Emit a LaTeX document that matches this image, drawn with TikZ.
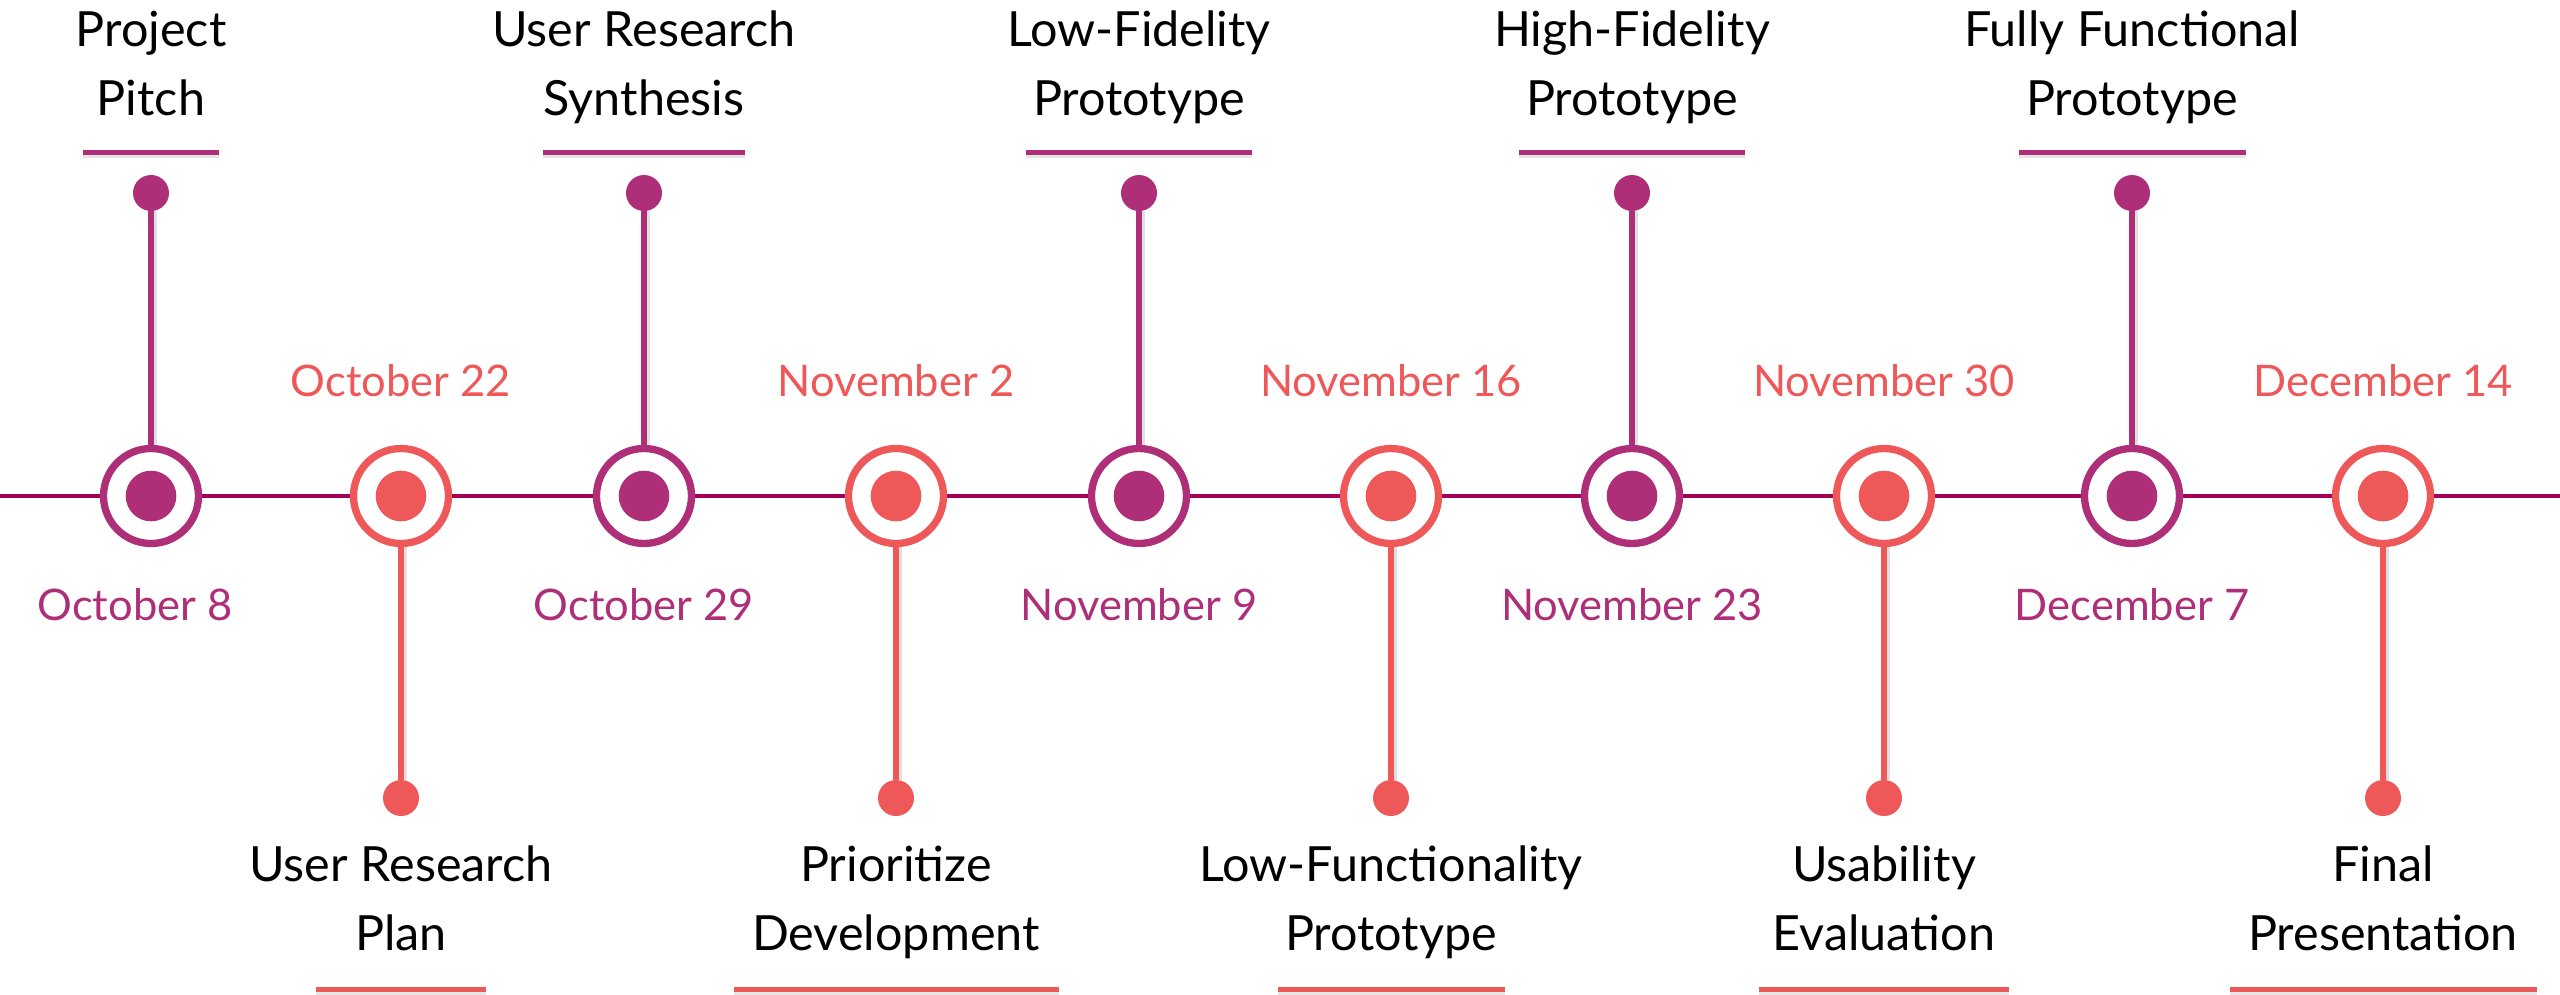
\documentclass[tikz,border=0pt]{standalone}
\usepackage{fontspec}
\setmainfont{Lato}
\usetikzlibrary{shadows}
\definecolor{plum}{HTML}{AE2E78}
\definecolor{coral}{HTML}{EE5858}
\definecolor{axisplum}{HTML}{A4005A}

\begin{document}
\begin{tikzpicture}[x=1pt,y=-1pt,
		ring/.style={circle,draw=#1,line width=7.3pt,fill=white,minimum size=95pt,inner sep=0pt,
			path picture={\fill[#1](path picture bounding box.center)circle(25.3pt);}},
		enddot/.style={circle,fill=#1,minimum size=36pt,inner sep=0pt},
		stem/.style={#1,line width=5.5pt,preaction={draw=black,opacity=0.12,line width=7pt,transform canvas={xshift=2pt}}},
		bar/.style={rectangle,fill=#1,minimum height=5pt,inner sep=0pt,drop shadow={shadow xshift=0pt,shadow yshift=-3pt,opacity=0.2}},
		event/.style={font=\fontsize{48.5}{68.5}\selectfont,align=center,anchor=base,inner sep=0pt},
		date/.style={font=\fontsize{43.5}{50}\selectfont,text=#1,anchor=base,inner sep=0pt}]
			\useasboundingbox(0,0)rectangle(2560,994);
			\coordinate(west)at(0,496);
			\coordinate(east)at(2560,496);
			\draw[axisplum,line width=4pt](west)--(east);
			\foreach \n/\x/\dx/\w/\lab/\dat in {1/151/135/136/{Project\\Pitch}/{October 8},3/644/644/202/{User Research\\Synthesis}/{October 29},5/1139/1139/226/{Low-Fidelity\\Prototype}/{November 9},7/1632/1632/226/{High-Fidelity\\Prototype}/{November 23},9/2132/2132/227/{Fully Functional\\Prototype}/{December 7}}{
				\node[ring=plum](m\n)at(\x,496){};
				\node[enddot=plum](d\n)at(\x,193){};
				\draw[stem=plum](d\n)--(m\n);
				\node[bar=plum,minimum width=\w pt](b\n)at(\x,152){};
				\node[event](e\n)at(\x,115){\lab};
				\node[date=plum](t\n)at(\dx,620){\dat};
			}
			\foreach \n/\x/\w/\lab/\dat in {2/401/170/{User Research\\Plan}/{October 22},4/896/325/{Prioritize\\Development}/{November 2},6/1391/227/{Low-Functionality\\Prototype}/{November 16},8/1884/250/{Usability\\Evaluation}/{November 30},10/2383/307/{Final\\Presentation}/{December 14}}{
				\node[ring=coral](m\n)at(\x,496){};
				\node[enddot=coral](d\n)at(\x,798){};
				\draw[stem=coral](m\n)--(d\n);
				\node[bar=coral,minimum width=\w pt](b\n)at(\x,989){};
				\node[event](e\n)at(\x,950){\lab};
				\node[date=coral](t\n)at(\x,396){\dat};
			}
		\end{tikzpicture}
\end{document}
